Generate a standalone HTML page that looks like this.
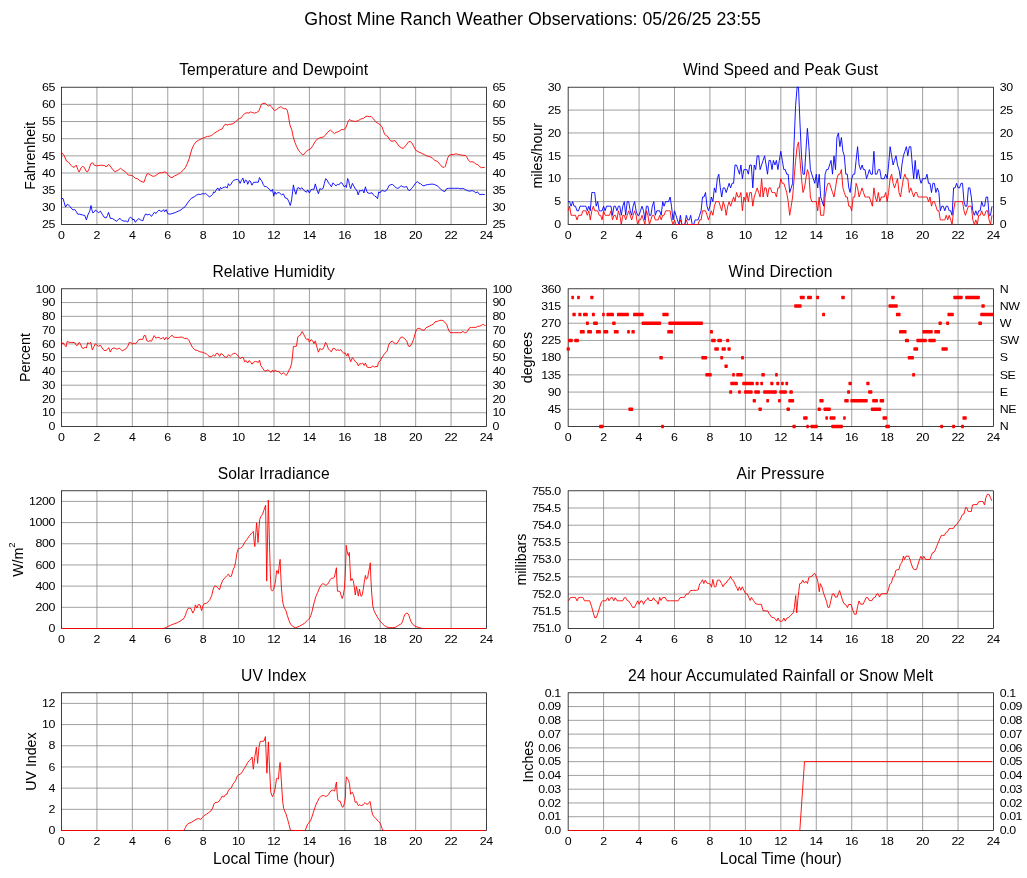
<!DOCTYPE html>
<html><head><meta charset="utf-8"><title>Ghost Mine Ranch Weather Observations</title>
<style>html,body{margin:0;padding:0;background:#fff;}body{width:1027px;height:878px;overflow:hidden;}svg{display:block;will-change:transform;transform:translateZ(0);}text{font-family:"Liberation Sans",sans-serif;fill:#000;}</style>
</head><body>
<svg width="1027" height="878" viewBox="0 0 1027 878">
<rect width="1027" height="878" fill="#fff"/>
<text x="532.6" y="25" text-anchor="middle" font-size="17.75">Ghost Mine Ranch Weather Observations: 05/26/25 23:55</text>
<path d="M96.92 87.2V224.5M132.33 87.2V224.5M167.75 87.2V224.5M203.17 87.2V224.5M238.58 87.2V224.5M274 87.2V224.5M309.42 87.2V224.5M344.83 87.2V224.5M380.25 87.2V224.5M415.67 87.2V224.5M451.08 87.2V224.5" stroke="#808080" stroke-width="0.75" fill="none"/>
<path d="M61.5 207.34H486.5M61.5 190.18H486.5M61.5 173.01H486.5M61.5 155.85H486.5M61.5 138.69H486.5M61.5 121.52H486.5M61.5 104.36H486.5" stroke="#808080" stroke-width="0.75" fill="none"/>
<rect x="61.5" y="87.2" width="425" height="137.3" fill="none" stroke="#000000" stroke-width="0.75"/>
<path d="M61.5 152.3 64.2 155.8 66.5 161.1 68.6 162.3 71.1 165.4 73 167.3 74.8 166.7 76.3 165.1 77.7 169.2 79.2 172 81.1 167.9 82.5 166.3 84.2 167.3 86 171.1 87.5 171.9 89.2 168.6 90.7 163.8 92.5 162.7 94.2 165.1 96.6 165.8 100.4 165.3 104.1 165.3 106 166.7 107.2 166.1 108.7 164.3 110.3 166.1 112.8 169.8 115.1 171.7 117.8 170.4 120.6 168.3 122.8 170.1 125.9 172.3 128.4 175.2 130.9 175.2 132.8 176 135.3 178.3 137.8 178.8 139.6 180.6 142.1 181.8 144 182.2 145.2 178.7 145.6 177.3 147.1 173.8 148.7 173.8 150.6 175.1 153.1 176.4 155.6 175.7 158 173.8 159.9 172.7 161.8 172.9 164.3 171.9 166.2 172.3 168 174.8 169.9 176.9 172 177.7 174.2 176.1 177.4 174.6 180.5 172.7 183 170.4 185.5 167.3 187.3 163.6 189.2 158.6 190.7 153 192.3 148 194.2 144.3 196.1 141.8 198.6 140.2 201.7 138.7 204.8 137.4 207.3 136.4 209.8 136.2 212.3 134.9 214.8 132.8 217.2 131.4 219.7 129.9 222.2 128.9 223.7 126.2 225.3 124.1 227.2 125 229.7 124.3 232.2 124 235.3 122.2 237.2 120 239.1 118.7 240.9 118.1 242.8 115.6 244.7 113.5 247.2 112.7 249 113.1 250.5 111.9 252.8 112.7 254.6 113.1 256.5 112.5 258.7 111.2 260 108.1 261.2 104.7 262.7 103.5 265 103.2 266.8 104.7 268.3 106 269.9 105.2 271.4 106.6 273.1 109 274.6 110.6 276.4 109.7 278.7 107.8 280.9 106.6 282.7 108.1 284.3 108.7 286.1 108.7 287.4 110.6 288.6 116.8 289.9 124.9 291.8 129.9 293.2 136.7 294.9 142.3 296.7 146.7 298.6 150.4 300.5 152.7 302.4 154.8 303.9 154.6 305.5 152.3 307.3 150.4 309.2 149.6 311.1 148.3 312.9 145.5 314.8 142.1 316.7 139.6 318.6 138.4 321.1 137.4 323.5 137.1 325.4 135.1 327.3 132.8 329.1 130.9 330.4 130.1 332.3 131.8 334.4 133.6 336 132.4 337.9 131.8 339.7 130.9 341.6 129.5 343.7 129.6 345.4 128.6 346.9 124.9 348.2 121.2 349.5 119.5 351 120.5 353.4 121.2 355.9 121.4 358.4 120.5 360.9 119 363.4 118.4 365.9 116.4 367.8 116.2 369.7 116.8 371.1 116.4 373.4 118.9 374.6 120.3 375.6 121.8 378.1 123.4 380 124.7 381.8 126.4 383.1 129.9 384.6 134.3 386.2 135.5 388.1 136.8 389.3 139.3 390.9 141.1 393.1 141.1 394.9 140.5 396.8 143 399.3 146.4 401.2 147.7 403 148.4 404.9 146.7 406.8 144.2 408.6 141.8 410.1 141.4 411.8 142.8 413.6 146.1 415.5 149.9 418 151.7 421.1 153 424.2 154.6 427.3 156.1 429.8 156.7 432.3 158 434.8 160.4 437.3 161.3 439.8 164.2 442.3 167.1 444.2 167.3 445.4 166.1 446.6 161.7 447.9 157.6 449.1 155.5 451 154.5 453.5 154.5 456 153.8 458.5 154.5 462.2 155.2 465.4 155.5 466.6 156.7 468.5 160.4 470.3 161.9 472.2 161.7 474.1 162.3 475.9 164.2 477.8 164.6 479.7 166.7 481.6 167.7 484.7 167.4" stroke="#ff0000" stroke-width="0.9" fill="none" stroke-linejoin="miter" stroke-miterlimit="10"/>
<path d="M61.5 198.7 63 198.4 64.2 202.4 65.5 207.1 67.3 204.3 69.2 205.5 71.1 208 73 209.9 74.8 209.6 76.5 211.8 77.7 214.2 79.8 214.2 82.3 214.9 84.8 215.5 86.4 219.9 87.9 214.9 89.8 211.1 91 205.5 91.9 209.9 92.9 213 94.4 211.8 95.4 210.1 96.9 211.1 98.5 212.8 100.4 211.1 102.2 214.2 104.1 217.1 106 218 107.5 215.5 108.5 212.4 109.3 214.9 110.3 218.4 112.2 218.4 114.1 219.6 116.6 221.3 118.5 219.2 120.1 218.4 121.8 220.5 124.1 221.1 126.3 221.1 127.8 222.1 129.1 218.6 130.3 217.1 131.8 218 132.8 219.9 134 219.2 135.3 222.3 137.2 219.9 138.8 218.6 140.5 219.9 142.8 220.8 144.2 216.7 145.6 213.9 147.5 214.9 149.6 214.2 151.5 216.4 153 214.2 154.6 212.1 155.8 213.6 157.3 211.8 159 210.1 160.5 211.1 162.1 211.4 163.6 209.6 164.6 211.8 166.2 209.6 167.7 213.6 169.6 214.2 172.1 213.6 175.2 212.6 178.3 211.1 180 210.5 182.5 208.6 185 206.8 187.5 203 190 199.7 191.8 198 194.3 196.8 196.8 194.9 198.7 194.3 200.6 194.5 202.2 193.7 204.3 193.9 205.6 193.4 207.2 194.9 209.3 196.8 211.2 195.9 212.7 194.3 213.7 191.8 214.7 192.7 215.8 190.6 217 188.7 218 188.1 219.3 190.6 220.5 187.4 221.8 188.9 223 187.4 224.6 187.2 225.9 186.8 227.1 188.1 228.4 183.7 229.6 185.6 230.8 184.7 232.3 181.8 233.8 180.2 235.5 179.7 237.3 179.3 238.6 180 240.1 183.4 241.3 180.6 242.9 178.1 244.2 183.1 245.4 180 246.7 180.6 247.7 184.3 249.2 180.6 250.4 181.2 251.9 185.2 253.5 182.4 256 182.2 258.3 182.2 259.5 177.5 260.8 180 262 181.2 263.3 184.7 264.8 186.8 266.2 186.4 267.9 188.1 269.5 189.3 271 191.4 272.5 189.3 273.7 196.2 275 191.8 276.2 194.3 277.8 192.4 279.7 193 281.6 194.9 283.4 193.9 285.3 198 287.2 198.4 288.7 201.2 290.3 205.5 291.6 199.9 292.6 191.8 293.4 184.9 294.4 189.9 295.9 194.3 297.4 188.1 299 187.7 300 189.3 301.9 187.7 303.5 189.9 305 191.2 306.5 192.2 307.7 189.9 309.4 193 311 189.7 312.5 189.3 314 189.3 315.3 183.9 316.8 189.3 318.4 193.7 319.9 188.7 321.4 189.3 323.1 188.4 324.3 183.7 325.6 178.7 327.2 180.2 328.7 183.4 329.9 184.3 331.4 186.8 333 182.8 334.3 184.3 336.1 185.9 337.4 184.3 338.9 184.9 340.5 182.8 341.8 182.7 343 184.9 344.2 186.8 345.5 185.6 346.4 187.4 347.6 178.5 348.6 180.6 349.6 185.6 350.7 188.7 352.4 183.4 353.9 186.2 355.5 189.3 356.7 189.9 358.2 194.9 359.6 190.6 361.1 190.9 362.7 189.9 363.9 193 365.4 186.8 366.7 191.2 367.9 193 369.8 193.4 372 192.7 373.5 194.9 375 196.4 376.3 196.8 377.5 198.7 378.8 191.8 379.8 193 381.3 190.9 382.9 190.6 384.8 191.4 386.6 190.3 387.9 188.1 388.9 185.6 390.4 184.9 392.2 184.3 394.1 185.9 396 187.7 397.5 188.4 399.1 187.8 401 185.6 402.8 186.8 404.7 187.2 406.6 186.4 408.2 189.9 409.7 190.6 411.6 188.4 413.4 186.4 415.3 183.4 417.2 181.6 419 183.1 420.6 183.7 422.1 185.2 424 185.9 425.9 184.9 427.8 184.7 429.8 184.3 432.3 184.1 434.8 184.6 437.3 185.9 439.8 188.1 442.3 190.6 444.8 191.6 446.6 188.7 448.5 188.3 451.6 188.3 454.8 188.3 458.5 188.3 461 188.9 462.9 188.3 464.7 189.3 467.2 190.6 469.7 191.2 472.2 190.6 474.1 191.4 475.9 193 477.4 191.8 479.7 194.7 482.2 194.3 484.7 194.5" stroke="#0000ff" stroke-width="0.9" fill="none" stroke-linejoin="miter" stroke-miterlimit="10"/>
<text x="273.7" y="75" text-anchor="middle" font-size="15.65" textLength="188.91" lengthAdjust="spacing">Temperature and Dewpoint</text>
<text transform="translate(61.28 239) scale(1.07 1)" text-anchor="middle" font-size="11.6" letter-spacing="-0.42">0</text>
<text transform="translate(96.69 239) scale(1.07 1)" text-anchor="middle" font-size="11.6" letter-spacing="-0.42">2</text>
<text transform="translate(132.11 239) scale(1.07 1)" text-anchor="middle" font-size="11.6" letter-spacing="-0.42">4</text>
<text transform="translate(167.53 239) scale(1.07 1)" text-anchor="middle" font-size="11.6" letter-spacing="-0.42">6</text>
<text transform="translate(202.94 239) scale(1.07 1)" text-anchor="middle" font-size="11.6" letter-spacing="-0.42">8</text>
<text transform="translate(238.36 239) scale(1.07 1)" text-anchor="middle" font-size="11.6" letter-spacing="-0.42">10</text>
<text transform="translate(273.78 239) scale(1.07 1)" text-anchor="middle" font-size="11.6" letter-spacing="-0.42">12</text>
<text transform="translate(309.19 239) scale(1.07 1)" text-anchor="middle" font-size="11.6" letter-spacing="-0.42">14</text>
<text transform="translate(344.61 239) scale(1.07 1)" text-anchor="middle" font-size="11.6" letter-spacing="-0.42">16</text>
<text transform="translate(380.03 239) scale(1.07 1)" text-anchor="middle" font-size="11.6" letter-spacing="-0.42">18</text>
<text transform="translate(415.44 239) scale(1.07 1)" text-anchor="middle" font-size="11.6" letter-spacing="-0.42">20</text>
<text transform="translate(450.86 239) scale(1.07 1)" text-anchor="middle" font-size="11.6" letter-spacing="-0.42">22</text>
<text transform="translate(486.28 239) scale(1.07 1)" text-anchor="middle" font-size="11.6" letter-spacing="-0.42">24</text>
<text transform="translate(54.85 228) scale(1.07 1)" text-anchor="end" font-size="11.6" letter-spacing="-0.42">25</text>
<text transform="translate(54.85 211) scale(1.07 1)" text-anchor="end" font-size="11.6" letter-spacing="-0.42">30</text>
<text transform="translate(54.85 194) scale(1.07 1)" text-anchor="end" font-size="11.6" letter-spacing="-0.42">35</text>
<text transform="translate(54.85 177) scale(1.07 1)" text-anchor="end" font-size="11.6" letter-spacing="-0.42">40</text>
<text transform="translate(54.85 160) scale(1.07 1)" text-anchor="end" font-size="11.6" letter-spacing="-0.42">45</text>
<text transform="translate(54.85 142) scale(1.07 1)" text-anchor="end" font-size="11.6" letter-spacing="-0.42">50</text>
<text transform="translate(54.85 125) scale(1.07 1)" text-anchor="end" font-size="11.6" letter-spacing="-0.42">55</text>
<text transform="translate(54.85 108) scale(1.07 1)" text-anchor="end" font-size="11.6" letter-spacing="-0.42">60</text>
<text transform="translate(54.85 91) scale(1.07 1)" text-anchor="end" font-size="11.6" letter-spacing="-0.42">65</text>
<text transform="translate(492.4 228) scale(1.07 1)" text-anchor="start" font-size="11.6" letter-spacing="-0.42">25</text>
<text transform="translate(492.4 211) scale(1.07 1)" text-anchor="start" font-size="11.6" letter-spacing="-0.42">30</text>
<text transform="translate(492.4 194) scale(1.07 1)" text-anchor="start" font-size="11.6" letter-spacing="-0.42">35</text>
<text transform="translate(492.4 177) scale(1.07 1)" text-anchor="start" font-size="11.6" letter-spacing="-0.42">40</text>
<text transform="translate(492.4 160) scale(1.07 1)" text-anchor="start" font-size="11.6" letter-spacing="-0.42">45</text>
<text transform="translate(492.4 142) scale(1.07 1)" text-anchor="start" font-size="11.6" letter-spacing="-0.42">50</text>
<text transform="translate(492.4 125) scale(1.07 1)" text-anchor="start" font-size="11.6" letter-spacing="-0.42">55</text>
<text transform="translate(492.4 108) scale(1.07 1)" text-anchor="start" font-size="11.6" letter-spacing="-0.42">60</text>
<text transform="translate(492.4 91) scale(1.07 1)" text-anchor="start" font-size="11.6" letter-spacing="-0.42">65</text>
<text transform="translate(35.2 155.8) rotate(-90)" text-anchor="middle" font-size="14.2">Fahrenheit</text>
<path d="M603.6 87.2V224.5M639.04 87.2V224.5M674.49 87.2V224.5M709.93 87.2V224.5M745.38 87.2V224.5M780.83 87.2V224.5M816.27 87.2V224.5M851.72 87.2V224.5M887.16 87.2V224.5M922.61 87.2V224.5M958.05 87.2V224.5" stroke="#808080" stroke-width="0.75" fill="none"/>
<path d="M568.15 201.62H993.5M568.15 178.73H993.5M568.15 155.85H993.5M568.15 132.97H993.5M568.15 110.08H993.5" stroke="#808080" stroke-width="0.75" fill="none"/>
<rect x="568.15" y="87.2" width="425.35" height="137.3" fill="none" stroke="#000000" stroke-width="0.75"/>
<path d="M568.1 201.6 569.6 201.6 571.1 206.2 572.6 201.6 574.1 206.2 575.5 206.2 577 210.8 578.5 210.8 580 206.2 581.4 206.2 582.9 206.2 584.4 206.2 585.9 206.2 587.3 210.8 588.8 206.2 590.3 210.8 591.8 192.5 593.3 192.5 594.7 192.5 596.2 206.2 597.7 201.6 599.2 210.8 600.6 210.8 602.1 210.8 603.6 206.2 605.1 210.8 606.5 206.2 608 206.2 609.5 206.2 611 206.2 612.5 215.3 613.9 206.2 615.4 206.2 616.9 210.8 618.4 206.2 619.8 206.2 621.3 215.3 622.8 206.2 624.3 201.6 625.7 215.3 627.2 201.6 628.7 201.6 630.2 210.8 631.7 215.3 633.1 206.2 634.6 201.6 636.1 210.8 637.6 215.3 639 215.3 640.5 210.8 642 206.2 643.5 210.8 644.9 219.9 646.4 206.2 647.9 206.2 649.4 215.3 650.9 215.3 652.3 206.2 653.8 201.6 655.3 215.3 656.8 210.8 658.2 210.8 659.7 210.8 661.2 215.3 662.7 201.6 664.1 206.2 665.6 201.6 667.1 201.6 668.6 201.6 670.1 197 671.5 206.2 673 219.9 674.5 210.8 676 215.3 677.4 219.9 678.9 224.5 680.4 215.3 681.9 224.5 683.3 224.5 684.8 224.5 686.3 215.3 687.8 219.9 689.3 219.9 690.7 215.3 692.2 224.5 693.7 224.5 695.2 219.9 696.6 219.9 698.1 219.9 699.6 215.3 701.1 210.8 702.5 197 704 197 705.5 192.5 707 206.2 708.5 210.8 709.9 206.2 711.4 197 712.9 201.6 714.4 187.9 715.8 192.5 717.3 178.7 718.8 174.2 720.3 187.9 721.7 197 723.2 187.9 724.7 187.9 726.2 192.5 727.7 187.9 729.1 183.3 730.6 187.9 732.1 183.3 733.6 183.3 735 165 736.5 165 738 169.6 739.5 174.2 740.9 165 742.4 178.7 743.9 169.6 745.4 169.6 746.9 169.6 748.3 174.2 749.8 165 751.3 165 752.8 187.9 754.2 165 755.7 169.6 757.2 155.8 758.7 155.8 760.1 169.6 761.6 165 763.1 160.4 764.6 155.8 766.1 165 767.5 174.2 769 160.4 770.5 160.4 772 169.6 773.4 160.4 774.9 165 776.4 160.4 777.9 169.6 779.3 160.4 780.8 151.3 782.3 160.4 783.8 169.6 785.3 169.6 786.7 174.2 788.2 174.2 789.7 192.5 791.2 187.9 792.6 183.3 794.1 142.1 795.6 105.5 797.1 87.2 798.5 87.2 800 123.8 801.5 155.8 803 174.2 804.5 174.2 805.9 151.3 807.4 128.4 808.9 146.7 810.4 169.6 811.8 174.2 813.3 178.7 814.8 183.3 816.3 174.2 817.7 187.9 819.2 174.2 820.7 197 822.2 201.6 823.7 206.2 825.1 174.2 826.6 169.6 828.1 169.6 829.6 165 831 160.4 832.5 174.2 834 155.8 835.5 169.6 836.9 137.5 838.4 133 839.9 146.7 841.4 137.5 842.9 151.3 844.3 155.8 845.8 174.2 847.3 174.2 848.8 187.9 850.2 192.5 851.7 178.7 853.2 174.2 854.7 174.2 856.1 160.4 857.6 146.7 859.1 165 860.6 169.6 862.1 165 863.5 169.6 865 169.6 866.5 178.7 868 174.2 869.4 169.6 870.9 174.2 872.4 174.2 873.9 151.3 875.3 174.2 876.8 174.2 878.3 169.6 879.8 169.6 881.3 178.7 882.7 178.7 884.2 178.7 885.7 174.2 887.2 178.7 888.6 165 890.1 146.7 891.6 155.8 893.1 165 894.5 160.4 896 155.8 897.5 165 899 169.6 900.5 178.7 901.9 165 903.4 155.8 904.9 151.3 906.4 146.7 907.8 155.8 909.3 146.7 910.8 146.7 912.3 165 913.7 178.7 915.2 160.4 916.7 178.7 918.2 169.6 919.7 178.7 921.1 183.3 922.6 178.7 924.1 178.7 925.6 178.7 927 174.2 928.5 183.3 930 183.3 931.5 192.5 932.9 183.3 934.4 183.3 935.9 192.5 937.4 187.9 938.9 192.5 940.3 210.8 941.8 206.2 943.3 206.2 944.8 210.8 946.2 206.2 947.7 206.2 949.2 210.8 950.7 210.8 952.1 215.3 953.6 187.9 955.1 187.9 956.6 183.3 958.1 187.9 959.5 187.9 961 183.3 962.5 183.3 964 201.6 965.4 206.2 966.9 206.2 968.4 187.9 969.9 187.9 971.3 197 972.8 210.8 974.3 215.3 975.8 210.8 977.3 215.3 978.7 210.8 980.2 210.8 981.7 201.6 983.2 206.2 984.6 206.2 986.1 197 987.6 197 989.1 215.3 990.5 215.3 992 206.2" stroke="#0000ff" stroke-width="0.9" fill="none" stroke-linejoin="miter" stroke-miterlimit="10"/>
<path d="M568.1 210.8 569.6 206.2 571.1 215.3 572.6 215.3 574.1 215.3 575.5 215.3 577 219.9 578.5 215.3 580 215.3 581.4 215.3 582.9 210.8 584.4 210.8 585.9 210.8 587.3 215.3 588.8 210.8 590.3 219.9 591.8 210.8 593.3 206.2 594.7 210.8 596.2 210.8 597.7 210.8 599.2 215.3 600.6 215.3 602.1 219.9 603.6 210.8 605.1 215.3 606.5 215.3 608 215.3 609.5 215.3 611 210.8 612.5 219.9 613.9 215.3 615.4 215.3 616.9 219.9 618.4 210.8 619.8 215.3 621.3 224.5 622.8 215.3 624.3 215.3 625.7 219.9 627.2 215.3 628.7 210.8 630.2 215.3 631.7 219.9 633.1 215.3 634.6 210.8 636.1 215.3 637.6 224.5 639 219.9 640.5 219.9 642 215.3 643.5 219.9 644.9 224.5 646.4 210.8 647.9 215.3 649.4 224.5 650.9 219.9 652.3 215.3 653.8 215.3 655.3 219.9 656.8 219.9 658.2 219.9 659.7 215.3 661.2 219.9 662.7 215.3 664.1 215.3 665.6 210.8 667.1 210.8 668.6 210.8 670.1 210.8 671.5 219.9 673 224.5 674.5 219.9 676 224.5 677.4 224.5 678.9 224.5 680.4 219.9 681.9 224.5 683.3 224.5 684.8 224.5 686.3 219.9 687.8 224.5 689.3 224.5 690.7 224.5 692.2 224.5 693.7 224.5 695.2 224.5 696.6 224.5 698.1 224.5 699.6 219.9 701.1 219.9 702.5 210.8 704 210.8 705.5 210.8 707 215.3 708.5 219.9 709.9 215.3 711.4 210.8 712.9 215.3 714.4 206.2 715.8 201.6 717.3 201.6 718.8 201.6 720.3 206.2 721.7 210.8 723.2 201.6 724.7 206.2 726.2 215.3 727.7 206.2 729.1 201.6 730.6 206.2 732.1 201.6 733.6 197 735 201.6 736.5 192.5 738 197 739.5 197 740.9 192.5 742.4 210.8 743.9 197 745.4 201.6 746.9 192.5 748.3 201.6 749.8 192.5 751.3 192.5 752.8 206.2 754.2 197 755.7 192.5 757.2 187.9 758.7 192.5 760.1 197 761.6 178.7 763.1 197 764.6 187.9 766.1 187.9 767.5 197 769 187.9 770.5 187.9 772 192.5 773.4 192.5 774.9 192.5 776.4 197 777.9 187.9 779.3 187.9 780.8 178.7 782.3 183.3 783.8 183.3 785.3 187.9 786.7 192.5 788.2 201.6 789.7 215.3 791.2 206.2 792.6 197 794.1 178.7 795.6 160.4 797.1 146.7 798.5 142.1 800 160.4 801.5 178.7 803 192.5 804.5 187.9 805.9 178.7 807.4 169.6 808.9 174.2 810.4 197 811.8 201.6 813.3 201.6 814.8 201.6 816.3 201.6 817.7 210.8 819.2 197 820.7 215.3 822.2 215.3 823.7 215.3 825.1 197 826.6 187.9 828.1 183.3 829.6 183.3 831 187.9 832.5 192.5 834 197 835.5 187.9 836.9 178.7 838.4 174.2 839.9 174.2 841.4 169.6 842.9 187.9 844.3 192.5 845.8 197 847.3 197 848.8 206.2 850.2 206.2 851.7 210.8 853.2 197 854.7 197 856.1 183.3 857.6 187.9 859.1 197 860.6 192.5 862.1 187.9 863.5 192.5 865 197 866.5 197 868 197 869.4 197 870.9 201.6 872.4 206.2 873.9 187.9 875.3 197 876.8 201.6 878.3 192.5 879.8 201.6 881.3 197 882.7 197 884.2 197 885.7 192.5 887.2 201.6 888.6 192.5 890.1 178.7 891.6 174.2 893.1 183.3 894.5 187.9 896 183.3 897.5 178.7 899 192.5 900.5 197 901.9 187.9 903.4 178.7 904.9 174.2 906.4 178.7 907.8 178.7 909.3 192.5 910.8 187.9 912.3 192.5 913.7 197 915.2 192.5 916.7 192.5 918.2 197 919.7 197 921.1 197 922.6 197 924.1 197 925.6 197 927 197 928.5 201.6 930 197 931.5 206.2 932.9 201.6 934.4 201.6 935.9 206.2 937.4 210.8 938.9 210.8 940.3 219.9 941.8 219.9 943.3 219.9 944.8 219.9 946.2 215.3 947.7 219.9 949.2 215.3 950.7 219.9 952.1 224.5 953.6 210.8 955.1 201.6 956.6 201.6 958.1 201.6 959.5 201.6 961 201.6 962.5 201.6 964 210.8 965.4 215.3 966.9 210.8 968.4 206.2 969.9 206.2 971.3 206.2 972.8 219.9 974.3 224.5 975.8 219.9 977.3 224.5 978.7 215.3 980.2 215.3 981.7 210.8 983.2 215.3 984.6 215.3 986.1 210.8 987.6 210.8 989.1 219.9 990.5 224.5 992 215.3" stroke="#ff0000" stroke-width="0.9" fill="none" stroke-linejoin="miter" stroke-miterlimit="10"/>
<text x="780.53" y="75" text-anchor="middle" font-size="15.65" textLength="195.04" lengthAdjust="spacing">Wind Speed and Peak Gust</text>
<text transform="translate(567.93 239) scale(1.07 1)" text-anchor="middle" font-size="11.6" letter-spacing="-0.42">0</text>
<text transform="translate(603.37 239) scale(1.07 1)" text-anchor="middle" font-size="11.6" letter-spacing="-0.42">2</text>
<text transform="translate(638.82 239) scale(1.07 1)" text-anchor="middle" font-size="11.6" letter-spacing="-0.42">4</text>
<text transform="translate(674.26 239) scale(1.07 1)" text-anchor="middle" font-size="11.6" letter-spacing="-0.42">6</text>
<text transform="translate(709.71 239) scale(1.07 1)" text-anchor="middle" font-size="11.6" letter-spacing="-0.42">8</text>
<text transform="translate(745.15 239) scale(1.07 1)" text-anchor="middle" font-size="11.6" letter-spacing="-0.42">10</text>
<text transform="translate(780.6 239) scale(1.07 1)" text-anchor="middle" font-size="11.6" letter-spacing="-0.42">12</text>
<text transform="translate(816.05 239) scale(1.07 1)" text-anchor="middle" font-size="11.6" letter-spacing="-0.42">14</text>
<text transform="translate(851.49 239) scale(1.07 1)" text-anchor="middle" font-size="11.6" letter-spacing="-0.42">16</text>
<text transform="translate(886.94 239) scale(1.07 1)" text-anchor="middle" font-size="11.6" letter-spacing="-0.42">18</text>
<text transform="translate(922.38 239) scale(1.07 1)" text-anchor="middle" font-size="11.6" letter-spacing="-0.42">20</text>
<text transform="translate(957.83 239) scale(1.07 1)" text-anchor="middle" font-size="11.6" letter-spacing="-0.42">22</text>
<text transform="translate(993.28 239) scale(1.07 1)" text-anchor="middle" font-size="11.6" letter-spacing="-0.42">24</text>
<text transform="translate(560.7 228) scale(1.07 1)" text-anchor="end" font-size="11.6" letter-spacing="-0.42">0</text>
<text transform="translate(560.7 205) scale(1.07 1)" text-anchor="end" font-size="11.6" letter-spacing="-0.42">5</text>
<text transform="translate(560.7 182) scale(1.07 1)" text-anchor="end" font-size="11.6" letter-spacing="-0.42">10</text>
<text transform="translate(560.7 160) scale(1.07 1)" text-anchor="end" font-size="11.6" letter-spacing="-0.42">15</text>
<text transform="translate(560.7 137) scale(1.07 1)" text-anchor="end" font-size="11.6" letter-spacing="-0.42">20</text>
<text transform="translate(560.7 114) scale(1.07 1)" text-anchor="end" font-size="11.6" letter-spacing="-0.42">25</text>
<text transform="translate(560.7 91) scale(1.07 1)" text-anchor="end" font-size="11.6" letter-spacing="-0.42">30</text>
<text transform="translate(999.7 228) scale(1.07 1)" text-anchor="start" font-size="11.6" letter-spacing="-0.42">0</text>
<text transform="translate(999.7 205) scale(1.07 1)" text-anchor="start" font-size="11.6" letter-spacing="-0.42">5</text>
<text transform="translate(999.7 182) scale(1.07 1)" text-anchor="start" font-size="11.6" letter-spacing="-0.42">10</text>
<text transform="translate(999.7 160) scale(1.07 1)" text-anchor="start" font-size="11.6" letter-spacing="-0.42">15</text>
<text transform="translate(999.7 137) scale(1.07 1)" text-anchor="start" font-size="11.6" letter-spacing="-0.42">20</text>
<text transform="translate(999.7 114) scale(1.07 1)" text-anchor="start" font-size="11.6" letter-spacing="-0.42">25</text>
<text transform="translate(999.7 91) scale(1.07 1)" text-anchor="start" font-size="11.6" letter-spacing="-0.42">30</text>
<text transform="translate(541.8 155.8) rotate(-90)" text-anchor="middle" font-size="14.2">miles/hour</text>
<path d="M96.92 288.8V426.5M132.33 288.8V426.5M167.75 288.8V426.5M203.17 288.8V426.5M238.58 288.8V426.5M274 288.8V426.5M309.42 288.8V426.5M344.83 288.8V426.5M380.25 288.8V426.5M415.67 288.8V426.5M451.08 288.8V426.5" stroke="#808080" stroke-width="0.75" fill="none"/>
<path d="M61.5 412.73H486.5M61.5 398.96H486.5M61.5 385.19H486.5M61.5 371.42H486.5M61.5 357.65H486.5M61.5 343.88H486.5M61.5 330.11H486.5M61.5 316.34H486.5M61.5 302.57H486.5" stroke="#808080" stroke-width="0.75" fill="none"/>
<rect x="61.5" y="288.8" width="425" height="137.7" fill="none" stroke="#000000" stroke-width="0.75"/>
<path d="M61.5 344.9 63 342.7 64.5 344.9 66.1 346.8 67.3 341.2 69 342.4 71.1 342.4 73 342.4 74.8 342.7 76.5 345.5 77.9 344.9 79.2 342.4 80.4 343.9 81.9 347.7 83.5 348.4 85.2 347.2 86.4 348 87.7 342.7 89.2 343.7 90.7 342.2 92.3 349.9 93.9 346.8 95.4 343.7 96.9 345.3 98.5 346.2 100.4 345.3 102.2 348 104.1 350.5 106 350.5 107.5 349.3 108.7 347.7 110.3 352.1 111.8 348.9 113.5 348 115.3 348.4 117.2 349.3 119.1 348 120.6 349.3 122.2 350.8 124.1 349.9 125.9 348.9 127.8 346.2 129.3 342.4 130.9 342.7 132.5 343.9 134 343 135.5 343.9 137.2 341.8 138.8 339.7 140.9 339.3 142.8 339.3 144 335.6 145.5 335.6 146.7 340.6 148.4 341.4 150 340.6 151.5 341.2 153 338.1 154.2 335.6 155.8 338.1 157.5 337.4 159 337.4 160.5 338.7 162.1 338.4 163.3 337.2 164.6 339.9 166.2 337.2 167.7 339.3 169.6 337.4 170.8 336.2 172.1 335.2 173.7 337.2 175.8 337.4 178.3 337.4 180 337.2 182.5 337.2 184.4 338.4 186.9 338.4 188.7 339.9 190.6 343.7 192.5 347.4 195 349.9 197.4 350.5 199.9 351.8 202.2 352.2 204.3 353 206.2 353.6 208 355.5 209.9 356.8 211.8 356.4 213.4 355.1 214.9 356.1 216.4 353.4 218 353.4 219.6 356.4 221.1 353.4 223 354.9 224.9 357.1 226.7 357.4 228.6 354.6 230.1 356.4 231.7 354.9 233.3 353.4 235.5 353.4 237.3 354.9 239.2 357.4 240.4 358.9 241.7 357.4 243.3 357.4 244.6 361.8 246.1 360.5 247.6 363 249.2 360.5 250.8 362.4 252 364.2 253.5 362.1 255.4 361.4 257 361.8 258.5 362.4 259.5 360.1 260.8 365.5 262.5 368 264.5 370.9 266 370.9 267.9 369.9 269.5 371.1 271.2 372.4 272.5 370.1 273.7 372.1 275.4 369.9 277 371.7 278.5 371.1 280 373 281.6 374.2 283.4 372.6 284.9 374.2 286.2 375.5 287.8 373 289.1 369.9 290.3 368 291.6 363.6 292.6 354.9 293.4 346.4 294.9 346.4 296.5 346.2 297.8 336.8 299.4 335.6 300 335.6 302.2 331.5 303.7 334.3 305.6 338.1 306.9 339.7 308.1 338.7 309.4 342.2 311 339.7 312.5 340.6 314 343.7 315.3 340.9 316.8 346.8 318.4 352.2 319.9 348.4 321.4 349.7 323.1 348.9 324.3 346.2 325.6 342.4 326.8 344.3 328.4 348.9 329.9 350.5 331.4 351.8 333 348.4 334.6 348.4 336.1 350.5 337.6 349.7 339.3 350.5 340.8 349.7 342.4 351.8 343.9 353.6 345.1 352.7 346.7 356.1 348 353.4 349.2 357.4 350.7 361.8 352.4 357.6 353.9 359.6 355.5 361.8 357.1 363 358.3 365.9 359.8 363.6 361.3 363.9 362.6 363 364.2 365.5 365.4 363 367.1 367.1 369.2 367.6 371.1 367.4 372.9 365.9 374.5 367.1 376 366.4 377.5 366.7 378.5 362.3 380 361.1 381.8 358 383.7 354.9 385.2 353 387.1 351.1 388.7 344.9 390.2 342.4 392.2 341.1 393.7 342.4 395.6 343.9 397.4 343 399.3 339.6 400.9 337.2 402.7 337.2 404.6 338.6 406.8 341.1 408.4 346.1 410.1 346.4 411.8 343.6 413.6 339.3 415.1 333.7 416.4 329.7 418 328.4 419.9 328.4 421.7 329.9 424.2 330.2 426.1 327.7 428 326.8 429.8 325.9 431.7 324.9 433.6 323.9 435.1 321.8 437.3 321.4 439.2 320.6 441.1 320.2 442.9 320.6 444.8 322.2 446.6 324.3 447.9 328.1 449.4 331.8 451 332.7 453.5 332.7 456 332.7 458.5 332.7 461 332.7 462.9 331.4 464.5 332.7 466.2 332.7 467.8 330.6 469.7 327.7 471.6 327.4 473.4 327.4 475.9 327.4 477.4 326.4 479.7 326.2 481.6 325.2 483.2 324.3 484.7 325.6 485.7 325.3" stroke="#ff0000" stroke-width="0.9" fill="none" stroke-linejoin="miter" stroke-miterlimit="10"/>
<text x="273.7" y="277" text-anchor="middle" font-size="15.65" textLength="122.46" lengthAdjust="spacing">Relative Humidity</text>
<text transform="translate(61.28 441) scale(1.07 1)" text-anchor="middle" font-size="11.6" letter-spacing="-0.42">0</text>
<text transform="translate(96.69 441) scale(1.07 1)" text-anchor="middle" font-size="11.6" letter-spacing="-0.42">2</text>
<text transform="translate(132.11 441) scale(1.07 1)" text-anchor="middle" font-size="11.6" letter-spacing="-0.42">4</text>
<text transform="translate(167.53 441) scale(1.07 1)" text-anchor="middle" font-size="11.6" letter-spacing="-0.42">6</text>
<text transform="translate(202.94 441) scale(1.07 1)" text-anchor="middle" font-size="11.6" letter-spacing="-0.42">8</text>
<text transform="translate(238.36 441) scale(1.07 1)" text-anchor="middle" font-size="11.6" letter-spacing="-0.42">10</text>
<text transform="translate(273.78 441) scale(1.07 1)" text-anchor="middle" font-size="11.6" letter-spacing="-0.42">12</text>
<text transform="translate(309.19 441) scale(1.07 1)" text-anchor="middle" font-size="11.6" letter-spacing="-0.42">14</text>
<text transform="translate(344.61 441) scale(1.07 1)" text-anchor="middle" font-size="11.6" letter-spacing="-0.42">16</text>
<text transform="translate(380.03 441) scale(1.07 1)" text-anchor="middle" font-size="11.6" letter-spacing="-0.42">18</text>
<text transform="translate(415.44 441) scale(1.07 1)" text-anchor="middle" font-size="11.6" letter-spacing="-0.42">20</text>
<text transform="translate(450.86 441) scale(1.07 1)" text-anchor="middle" font-size="11.6" letter-spacing="-0.42">22</text>
<text transform="translate(486.28 441) scale(1.07 1)" text-anchor="middle" font-size="11.6" letter-spacing="-0.42">24</text>
<text transform="translate(54.85 430) scale(1.07 1)" text-anchor="end" font-size="11.6" letter-spacing="-0.42">0</text>
<text transform="translate(54.85 416) scale(1.07 1)" text-anchor="end" font-size="11.6" letter-spacing="-0.42">10</text>
<text transform="translate(54.85 403) scale(1.07 1)" text-anchor="end" font-size="11.6" letter-spacing="-0.42">20</text>
<text transform="translate(54.85 389) scale(1.07 1)" text-anchor="end" font-size="11.6" letter-spacing="-0.42">30</text>
<text transform="translate(54.85 375) scale(1.07 1)" text-anchor="end" font-size="11.6" letter-spacing="-0.42">40</text>
<text transform="translate(54.85 361) scale(1.07 1)" text-anchor="end" font-size="11.6" letter-spacing="-0.42">50</text>
<text transform="translate(54.85 348) scale(1.07 1)" text-anchor="end" font-size="11.6" letter-spacing="-0.42">60</text>
<text transform="translate(54.85 334) scale(1.07 1)" text-anchor="end" font-size="11.6" letter-spacing="-0.42">70</text>
<text transform="translate(54.85 320) scale(1.07 1)" text-anchor="end" font-size="11.6" letter-spacing="-0.42">80</text>
<text transform="translate(54.85 306) scale(1.07 1)" text-anchor="end" font-size="11.6" letter-spacing="-0.42">90</text>
<text transform="translate(54.85 293) scale(1.07 1)" text-anchor="end" font-size="11.6" letter-spacing="-0.42">100</text>
<text transform="translate(492.4 430) scale(1.07 1)" text-anchor="start" font-size="11.6" letter-spacing="-0.42">0</text>
<text transform="translate(492.4 416) scale(1.07 1)" text-anchor="start" font-size="11.6" letter-spacing="-0.42">10</text>
<text transform="translate(492.4 403) scale(1.07 1)" text-anchor="start" font-size="11.6" letter-spacing="-0.42">20</text>
<text transform="translate(492.4 389) scale(1.07 1)" text-anchor="start" font-size="11.6" letter-spacing="-0.42">30</text>
<text transform="translate(492.4 375) scale(1.07 1)" text-anchor="start" font-size="11.6" letter-spacing="-0.42">40</text>
<text transform="translate(492.4 361) scale(1.07 1)" text-anchor="start" font-size="11.6" letter-spacing="-0.42">50</text>
<text transform="translate(492.4 348) scale(1.07 1)" text-anchor="start" font-size="11.6" letter-spacing="-0.42">60</text>
<text transform="translate(492.4 334) scale(1.07 1)" text-anchor="start" font-size="11.6" letter-spacing="-0.42">70</text>
<text transform="translate(492.4 320) scale(1.07 1)" text-anchor="start" font-size="11.6" letter-spacing="-0.42">80</text>
<text transform="translate(492.4 306) scale(1.07 1)" text-anchor="start" font-size="11.6" letter-spacing="-0.42">90</text>
<text transform="translate(492.4 293) scale(1.07 1)" text-anchor="start" font-size="11.6" letter-spacing="-0.42">100</text>
<text transform="translate(29.5 357.6) rotate(-90)" text-anchor="middle" font-size="14.2">Percent</text>
<path d="M603.6 288.8V426.5M639.04 288.8V426.5M674.49 288.8V426.5M709.93 288.8V426.5M745.38 288.8V426.5M780.83 288.8V426.5M816.27 288.8V426.5M851.72 288.8V426.5M887.16 288.8V426.5M922.61 288.8V426.5M958.05 288.8V426.5" stroke="#808080" stroke-width="0.75" fill="none"/>
<path d="M568.15 409.29H993.5M568.15 392.07H993.5M568.15 374.86H993.5M568.15 357.65H993.5M568.15 340.44H993.5M568.15 323.23H993.5M568.15 306.01H993.5" stroke="#808080" stroke-width="0.75" fill="none"/>
<rect x="568.15" y="288.8" width="425.35" height="137.7" fill="none" stroke="#000000" stroke-width="0.75"/>
<g fill="#ff0000"><rect x="599.05" y="424.75" width="4.6" height="3.5" rx="0.7"/><rect x="661.05" y="424.75" width="2.9" height="3.5" rx="0.7"/><rect x="792.45" y="424.75" width="3.3" height="3.5" rx="0.7"/><rect x="806.25" y="424.75" width="2.6" height="3.5" rx="0.7"/><rect x="810.5" y="424.75" width="7.25" height="3.5" rx="0.7"/><rect x="831.25" y="424.75" width="11.6" height="3.5" rx="0.7"/><rect x="885.35" y="424.75" width="4.6" height="3.5" rx="0.7"/><rect x="940.25" y="424.75" width="2.8" height="3.5" rx="0.7"/><rect x="952.15" y="424.75" width="2.9" height="3.5" rx="0.7"/><rect x="961.05" y="424.75" width="2.9" height="3.5" rx="0.7"/><rect x="803.15" y="416.14" width="4.5" height="3.5" rx="0.7"/><rect x="825.35" y="416.14" width="2.6" height="3.5" rx="0.7"/><rect x="829.55" y="416.14" width="5.95" height="3.5" rx="0.7"/><rect x="843.15" y="416.14" width="2.6" height="3.5" rx="0.7"/><rect x="882.5" y="416.14" width="4.55" height="3.5" rx="0.7"/><rect x="962.45" y="416.14" width="4.3" height="3.5" rx="0.7"/><rect x="628.45" y="407.54" width="4.7" height="3.5" rx="0.7"/><rect x="758.45" y="407.54" width="3.45" height="3.5" rx="0.7"/><rect x="786.55" y="407.54" width="3.4" height="3.5" rx="0.7"/><rect x="817.65" y="407.54" width="3.2" height="3.5" rx="0.7"/><rect x="823.55" y="407.54" width="7.2" height="3.5" rx="0.7"/><rect x="870.95" y="407.54" width="10.2" height="3.5" rx="0.7"/><rect x="752.65" y="398.93" width="3.3" height="3.5" rx="0.7"/><rect x="766.25" y="398.93" width="2.8" height="3.5" rx="0.7"/><rect x="778.05" y="398.93" width="2.8" height="3.5" rx="0.7"/><rect x="788.25" y="398.93" width="5.9" height="3.5" rx="0.7"/><rect x="819.35" y="398.93" width="4.3" height="3.5" rx="0.7"/><rect x="844.25" y="398.93" width="4.5" height="3.5" rx="0.7"/><rect x="850.35" y="398.93" width="17.4" height="3.5" rx="0.7"/><rect x="872.15" y="398.93" width="5.8" height="3.5" rx="0.7"/><rect x="879.55" y="398.93" width="4.6" height="3.5" rx="0.7"/><rect x="729.15" y="390.32" width="3.1" height="3.5" rx="0.7"/><rect x="738.05" y="390.32" width="2.8" height="3.5" rx="0.7"/><rect x="744.05" y="390.32" width="8.6" height="3.5" rx="0.7"/><rect x="754.25" y="390.32" width="5.7" height="3.5" rx="0.7"/><rect x="763.15" y="390.32" width="13.7" height="3.5" rx="0.7"/><rect x="779.25" y="390.32" width="7.65" height="3.5" rx="0.7"/><rect x="789.35" y="390.32" width="3.5" height="3.5" rx="0.7"/><rect x="847.1" y="390.32" width="3.05" height="3.5" rx="0.7"/><rect x="868.05" y="390.32" width="4.35" height="3.5" rx="0.7"/><rect x="730.25" y="381.72" width="7.7" height="3.5" rx="0.7"/><rect x="742.25" y="381.72" width="11.65" height="3.5" rx="0.7"/><rect x="755.55" y="381.72" width="3.1" height="3.5" rx="0.7"/><rect x="760.25" y="381.72" width="2.8" height="3.5" rx="0.7"/><rect x="770.25" y="381.72" width="3.2" height="3.5" rx="0.7"/><rect x="776.25" y="381.72" width="3.1" height="3.5" rx="0.7"/><rect x="781.05" y="381.72" width="2.7" height="3.5" rx="0.7"/><rect x="785.35" y="381.72" width="2.8" height="3.5" rx="0.7"/><rect x="848.45" y="381.72" width="3.4" height="3.5" rx="0.7"/><rect x="866.25" y="381.72" width="3.3" height="3.5" rx="0.7"/><rect x="705.35" y="373.11" width="6.4" height="3.5" rx="0.7"/><rect x="732.15" y="373.11" width="2.7" height="3.5" rx="0.7"/><rect x="736.25" y="373.11" width="6.4" height="3.5" rx="0.7"/><rect x="761.35" y="373.11" width="3.5" height="3.5" rx="0.7"/><rect x="775.1" y="373.11" width="2.75" height="3.5" rx="0.7"/><rect x="912.15" y="373.11" width="2.9" height="3.5" rx="0.7"/><rect x="724.45" y="364.51" width="3.3" height="3.5" rx="0.7"/><rect x="659.35" y="355.9" width="3.5" height="3.5" rx="0.7"/><rect x="701.35" y="355.9" width="5.7" height="3.5" rx="0.7"/><rect x="720.25" y="355.9" width="2.8" height="3.5" rx="0.7"/><rect x="741.05" y="355.9" width="2.9" height="3.5" rx="0.7"/><rect x="907.75" y="355.9" width="6.2" height="3.5" rx="0.7"/><rect x="566.65" y="347.29" width="3.2" height="3.5" rx="0.7"/><rect x="714.25" y="347.29" width="4.6" height="3.5" rx="0.7"/><rect x="721.55" y="347.29" width="4.3" height="3.5" rx="0.7"/><rect x="727.45" y="347.29" width="3.3" height="3.5" rx="0.7"/><rect x="913.35" y="347.29" width="4.8" height="3.5" rx="0.7"/><rect x="941.45" y="347.29" width="6.3" height="3.5" rx="0.7"/><rect x="568.05" y="338.69" width="4.7" height="3.5" rx="0.7"/><rect x="574.25" y="338.69" width="4.6" height="3.5" rx="0.7"/><rect x="711.15" y="338.69" width="4.6" height="3.5" rx="0.7"/><rect x="717.35" y="338.69" width="4.6" height="3.5" rx="0.7"/><rect x="726.15" y="338.69" width="3" height="3.5" rx="0.7"/><rect x="904.95" y="338.69" width="4.05" height="3.5" rx="0.7"/><rect x="916.35" y="338.69" width="10.45" height="3.5" rx="0.7"/><rect x="928.3" y="338.69" width="7.45" height="3.5" rx="0.7"/><rect x="579.75" y="330.08" width="5" height="3.5" rx="0.7"/><rect x="587.15" y="330.08" width="4.8" height="3.5" rx="0.7"/><rect x="595.95" y="330.08" width="4.9" height="3.5" rx="0.7"/><rect x="603.35" y="330.08" width="4.9" height="3.5" rx="0.7"/><rect x="613.85" y="330.08" width="4.8" height="3.5" rx="0.7"/><rect x="627.15" y="330.08" width="2.7" height="3.5" rx="0.7"/><rect x="631.45" y="330.08" width="3.35" height="3.5" rx="0.7"/><rect x="667.25" y="330.08" width="5.7" height="3.5" rx="0.7"/><rect x="709.9" y="330.08" width="3.05" height="3.5" rx="0.7"/><rect x="899.05" y="330.08" width="7.5" height="3.5" rx="0.7"/><rect x="922.35" y="330.08" width="10.4" height="3.5" rx="0.7"/><rect x="934.25" y="330.08" width="5.85" height="3.5" rx="0.7"/><rect x="585.95" y="321.48" width="2.9" height="3.5" rx="0.7"/><rect x="593.15" y="321.48" width="4.7" height="3.5" rx="0.7"/><rect x="612.15" y="321.48" width="3.5" height="3.5" rx="0.7"/><rect x="641.65" y="321.48" width="19.4" height="3.5" rx="0.7"/><rect x="668.35" y="321.48" width="34.5" height="3.5" rx="0.7"/><rect x="938.55" y="321.48" width="3.2" height="3.5" rx="0.7"/><rect x="946.15" y="321.48" width="3" height="3.5" rx="0.7"/><rect x="978.35" y="321.48" width="3.6" height="3.5" rx="0.7"/><rect x="572.4" y="312.87" width="3.35" height="3.5" rx="0.7"/><rect x="578.35" y="312.87" width="3.1" height="3.5" rx="0.7"/><rect x="583.05" y="312.87" width="4.7" height="3.5" rx="0.7"/><rect x="591.95" y="312.87" width="2.9" height="3.5" rx="0.7"/><rect x="602.15" y="312.87" width="2.6" height="3.5" rx="0.7"/><rect x="606.45" y="312.87" width="7.5" height="3.5" rx="0.7"/><rect x="616.95" y="312.87" width="11.9" height="3.5" rx="0.7"/><rect x="633.05" y="312.87" width="10.6" height="3.5" rx="0.7"/><rect x="662.35" y="312.87" width="6.3" height="3.5" rx="0.7"/><rect x="822.15" y="312.87" width="2.9" height="3.5" rx="0.7"/><rect x="895.95" y="312.87" width="4.6" height="3.5" rx="0.7"/><rect x="947.45" y="312.87" width="6.35" height="3.5" rx="0.7"/><rect x="980.25" y="312.87" width="13.2" height="3.5" rx="0.7"/><rect x="794.15" y="304.26" width="7.5" height="3.5" rx="0.7"/><rect x="888.45" y="304.26" width="9.3" height="3.5" rx="0.7"/><rect x="981.35" y="304.26" width="3.45" height="3.5" rx="0.7"/><rect x="571.35" y="295.66" width="2.6" height="3.5" rx="0.7"/><rect x="577.15" y="295.66" width="2.7" height="3.5" rx="0.7"/><rect x="590.25" y="295.66" width="3.2" height="3.5" rx="0.7"/><rect x="799.85" y="295.66" width="4.9" height="3.5" rx="0.7"/><rect x="807.05" y="295.66" width="4.9" height="3.5" rx="0.7"/><rect x="816.15" y="295.66" width="2.9" height="3.5" rx="0.7"/><rect x="841.25" y="295.66" width="3.5" height="3.5" rx="0.7"/><rect x="891.25" y="295.66" width="3.4" height="3.5" rx="0.7"/><rect x="953.35" y="295.66" width="9.3" height="3.5" rx="0.7"/><rect x="965.2" y="295.66" width="14.65" height="3.5" rx="0.7"/></g>
<text x="780.53" y="277" text-anchor="middle" font-size="15.65" textLength="104.06" lengthAdjust="spacing">Wind Direction</text>
<text transform="translate(567.93 441) scale(1.07 1)" text-anchor="middle" font-size="11.6" letter-spacing="-0.42">0</text>
<text transform="translate(603.37 441) scale(1.07 1)" text-anchor="middle" font-size="11.6" letter-spacing="-0.42">2</text>
<text transform="translate(638.82 441) scale(1.07 1)" text-anchor="middle" font-size="11.6" letter-spacing="-0.42">4</text>
<text transform="translate(674.26 441) scale(1.07 1)" text-anchor="middle" font-size="11.6" letter-spacing="-0.42">6</text>
<text transform="translate(709.71 441) scale(1.07 1)" text-anchor="middle" font-size="11.6" letter-spacing="-0.42">8</text>
<text transform="translate(745.15 441) scale(1.07 1)" text-anchor="middle" font-size="11.6" letter-spacing="-0.42">10</text>
<text transform="translate(780.6 441) scale(1.07 1)" text-anchor="middle" font-size="11.6" letter-spacing="-0.42">12</text>
<text transform="translate(816.05 441) scale(1.07 1)" text-anchor="middle" font-size="11.6" letter-spacing="-0.42">14</text>
<text transform="translate(851.49 441) scale(1.07 1)" text-anchor="middle" font-size="11.6" letter-spacing="-0.42">16</text>
<text transform="translate(886.94 441) scale(1.07 1)" text-anchor="middle" font-size="11.6" letter-spacing="-0.42">18</text>
<text transform="translate(922.38 441) scale(1.07 1)" text-anchor="middle" font-size="11.6" letter-spacing="-0.42">20</text>
<text transform="translate(957.83 441) scale(1.07 1)" text-anchor="middle" font-size="11.6" letter-spacing="-0.42">22</text>
<text transform="translate(993.28 441) scale(1.07 1)" text-anchor="middle" font-size="11.6" letter-spacing="-0.42">24</text>
<text transform="translate(560.7 430) scale(1.07 1)" text-anchor="end" font-size="11.6" letter-spacing="-0.42">0</text>
<text transform="translate(560.7 413) scale(1.07 1)" text-anchor="end" font-size="11.6" letter-spacing="-0.42">45</text>
<text transform="translate(560.7 396) scale(1.07 1)" text-anchor="end" font-size="11.6" letter-spacing="-0.42">90</text>
<text transform="translate(560.7 379) scale(1.07 1)" text-anchor="end" font-size="11.6" letter-spacing="-0.42">135</text>
<text transform="translate(560.7 361) scale(1.07 1)" text-anchor="end" font-size="11.6" letter-spacing="-0.42">180</text>
<text transform="translate(560.7 344) scale(1.07 1)" text-anchor="end" font-size="11.6" letter-spacing="-0.42">225</text>
<text transform="translate(560.7 327) scale(1.07 1)" text-anchor="end" font-size="11.6" letter-spacing="-0.42">270</text>
<text transform="translate(560.7 310) scale(1.07 1)" text-anchor="end" font-size="11.6" letter-spacing="-0.42">315</text>
<text transform="translate(560.7 293) scale(1.07 1)" text-anchor="end" font-size="11.6" letter-spacing="-0.42">360</text>
<text transform="translate(999.7 430) scale(1.07 1)" text-anchor="start" font-size="11.6" letter-spacing="-0.42">N</text>
<text transform="translate(999.7 413) scale(1.07 1)" text-anchor="start" font-size="11.6" letter-spacing="-0.42">NE</text>
<text transform="translate(999.7 396) scale(1.07 1)" text-anchor="start" font-size="11.6" letter-spacing="-0.42">E</text>
<text transform="translate(999.7 379) scale(1.07 1)" text-anchor="start" font-size="11.6" letter-spacing="-0.42">SE</text>
<text transform="translate(999.7 361) scale(1.07 1)" text-anchor="start" font-size="11.6" letter-spacing="-0.42">S</text>
<text transform="translate(999.7 344) scale(1.07 1)" text-anchor="start" font-size="11.6" letter-spacing="-0.42">SW</text>
<text transform="translate(999.7 327) scale(1.07 1)" text-anchor="start" font-size="11.6" letter-spacing="-0.42">W</text>
<text transform="translate(999.7 310) scale(1.07 1)" text-anchor="start" font-size="11.6" letter-spacing="-0.42">NW</text>
<text transform="translate(999.7 293) scale(1.07 1)" text-anchor="start" font-size="11.6" letter-spacing="-0.42">N</text>
<text transform="translate(532.4 357.6) rotate(-90)" text-anchor="middle" font-size="14.2">degrees</text>
<path d="M96.92 490.8V628.5M132.33 490.8V628.5M167.75 490.8V628.5M203.17 490.8V628.5M238.58 490.8V628.5M274 490.8V628.5M309.42 490.8V628.5M344.83 490.8V628.5M380.25 490.8V628.5M415.67 490.8V628.5M451.08 490.8V628.5" stroke="#808080" stroke-width="0.75" fill="none"/>
<path d="M61.5 607.32H486.5M61.5 586.13H486.5M61.5 564.95H486.5M61.5 543.76H486.5M61.5 522.58H486.5M61.5 501.39H486.5" stroke="#808080" stroke-width="0.75" fill="none"/>
<rect x="61.5" y="490.8" width="425" height="137.7" fill="none" stroke="#000000" stroke-width="0.75"/>
<path d="M61.5 628.5 162 628.5 164.7 628.2 167.6 626.6 170.5 625.3 173.4 624.1 177.4 622.7 180.9 620.6 183.8 618.5 185.3 615.4 186.7 611.3 188.1 608.4 189.6 608.1 191.1 608.8 192.8 613.1 194.3 610.2 195.4 604.9 196.9 608.1 198.3 604.6 200.1 604.9 201.6 610.7 203 605.5 204.1 603.8 206.2 603.4 208.2 601.8 209.9 599.5 211.7 595.6 213.2 589.2 214.4 586.3 215.8 586 217.5 587.5 219.5 589.8 221 584.6 222.7 580.5 225.1 577.6 226.8 575.7 228.5 574.1 229.7 576.5 231.4 576.2 233 570.1 234.6 566.6 235.7 561.4 236.9 553.2 238.1 549.2 239 548.4 240.7 548 242.5 546.5 244.8 542.2 247.1 539.3 249.4 535.8 251.8 532.9 253.5 531.4 253.9 539.2 254.8 546.6 255.6 535.9 256.6 522.8 257.4 532.6 258 542.5 258.9 529.4 259.7 519.5 260.9 516.6 262.6 514.2 263.8 510.5 264.9 507.2 265.6 505.2 266.7 581.1 268.3 500.2 270.3 573.3 271 589.3 272.3 591.1 273.6 589.3 274.9 584.6 275.7 579.4 276.6 570.7 277.5 571.1 278.3 573.7 279.2 565.5 280.1 559.3 280.7 573.3 281.5 588.9 282.4 599.3 283.3 604.9 284.4 607.9 285.9 610.5 287.4 615.7 289 620.5 290.5 624 292.2 625.9 293.9 627.1 295.6 627.7 297.4 627.1 299.6 626.1 302.1 624.8 304.7 623.1 307.3 620.5 309.5 618.3 310.8 615.7 311.8 612.3 313 607.1 314.3 601.9 315.8 596.7 317.7 592.4 319.5 588 321 585.3 322.5 583.7 324.2 584.1 325.9 585.4 327.7 584.1 329 582 330.3 579.4 331.6 578.3 333.3 578.1 334.2 577.5 335.3 573.2 336.4 567.7 336.9 581.9 337.5 591.2 339.1 591.2 340.2 591.8 341.1 595.6 342.2 598.5 343.3 595 344.4 588.5 345.1 577.5 345.7 563.3 346.2 545.3 347 550.8 347.9 554 348.6 555.7 349.3 552.4 350.1 568.8 350.8 580.8 352 578.6 353.3 580.8 354.2 586.3 355.3 595 356.4 586.5 357.5 591.8 358.4 596.1 359.4 589 360.4 594 361.2 596.4 362.3 594.5 363.2 589.6 364.3 581.9 365.4 575.4 366.4 579.2 367.6 578.1 368.6 572.1 369.5 567.7 370.3 562.8 370.8 577.5 371.7 592.9 372.8 606 374.1 610.9 375.8 614.2 377.9 618 380.1 621.3 382.3 623.5 384.5 625.7 386.7 627 389.4 627.6 392.7 627.6 395.4 627.3 397.5 626 398.7 625.2 400.6 624.3 401.8 623 402.8 620.6 403.7 617.5 404.6 615 405.6 613.6 406.8 613.1 408.1 613.8 409 615.6 409.9 618.7 410.9 621.2 411.8 623 413 624.6 414.9 626 417.4 627.1 419.9 627.9 422.4 628.5 485 628.5" stroke="#ff0000" stroke-width="0.9" fill="none" stroke-linejoin="miter" stroke-miterlimit="10"/>
<text x="273.7" y="479" text-anchor="middle" font-size="15.65" textLength="112.08" lengthAdjust="spacing">Solar Irradiance</text>
<text transform="translate(61.28 643) scale(1.07 1)" text-anchor="middle" font-size="11.6" letter-spacing="-0.42">0</text>
<text transform="translate(96.69 643) scale(1.07 1)" text-anchor="middle" font-size="11.6" letter-spacing="-0.42">2</text>
<text transform="translate(132.11 643) scale(1.07 1)" text-anchor="middle" font-size="11.6" letter-spacing="-0.42">4</text>
<text transform="translate(167.53 643) scale(1.07 1)" text-anchor="middle" font-size="11.6" letter-spacing="-0.42">6</text>
<text transform="translate(202.94 643) scale(1.07 1)" text-anchor="middle" font-size="11.6" letter-spacing="-0.42">8</text>
<text transform="translate(238.36 643) scale(1.07 1)" text-anchor="middle" font-size="11.6" letter-spacing="-0.42">10</text>
<text transform="translate(273.78 643) scale(1.07 1)" text-anchor="middle" font-size="11.6" letter-spacing="-0.42">12</text>
<text transform="translate(309.19 643) scale(1.07 1)" text-anchor="middle" font-size="11.6" letter-spacing="-0.42">14</text>
<text transform="translate(344.61 643) scale(1.07 1)" text-anchor="middle" font-size="11.6" letter-spacing="-0.42">16</text>
<text transform="translate(380.03 643) scale(1.07 1)" text-anchor="middle" font-size="11.6" letter-spacing="-0.42">18</text>
<text transform="translate(415.44 643) scale(1.07 1)" text-anchor="middle" font-size="11.6" letter-spacing="-0.42">20</text>
<text transform="translate(450.86 643) scale(1.07 1)" text-anchor="middle" font-size="11.6" letter-spacing="-0.42">22</text>
<text transform="translate(486.28 643) scale(1.07 1)" text-anchor="middle" font-size="11.6" letter-spacing="-0.42">24</text>
<text transform="translate(54.85 632) scale(1.07 1)" text-anchor="end" font-size="11.6" letter-spacing="-0.42">0</text>
<text transform="translate(54.85 611) scale(1.07 1)" text-anchor="end" font-size="11.6" letter-spacing="-0.42">200</text>
<text transform="translate(54.85 590) scale(1.07 1)" text-anchor="end" font-size="11.6" letter-spacing="-0.42">400</text>
<text transform="translate(54.85 569) scale(1.07 1)" text-anchor="end" font-size="11.6" letter-spacing="-0.42">600</text>
<text transform="translate(54.85 547) scale(1.07 1)" text-anchor="end" font-size="11.6" letter-spacing="-0.42">800</text>
<text transform="translate(54.85 526) scale(1.07 1)" text-anchor="end" font-size="11.6" letter-spacing="-0.42">1000</text>
<text transform="translate(54.85 505) scale(1.07 1)" text-anchor="end" font-size="11.6" letter-spacing="-0.42">1200</text>
<text transform="translate(22.7 559.6) rotate(-90)" text-anchor="middle" font-size="14.2">W/m<tspan font-size="9.5" dy="-7.5">2</tspan></text>
<path d="M603.6 490.8V628.5M639.04 490.8V628.5M674.49 490.8V628.5M709.93 490.8V628.5M745.38 490.8V628.5M780.83 490.8V628.5M816.27 490.8V628.5M851.72 490.8V628.5M887.16 490.8V628.5M922.61 490.8V628.5M958.05 490.8V628.5" stroke="#808080" stroke-width="0.75" fill="none"/>
<path d="M568.15 611.29H993.5M568.15 594.08H993.5M568.15 576.86H993.5M568.15 559.65H993.5M568.15 542.44H993.5M568.15 525.23H993.5M568.15 508.01H993.5" stroke="#808080" stroke-width="0.75" fill="none"/>
<rect x="568.15" y="490.8" width="425.35" height="137.7" fill="none" stroke="#000000" stroke-width="0.75"/>
<path d="M568.5 600.9 570.4 597.7 572.2 597.4 575.4 597.4 577 600.9 578.5 597.7 580.3 597.4 582.8 597.4 584.5 600.8 587.2 600.8 589.7 600.8 591.5 606.2 593.2 612.4 594.7 617.6 596.3 617.6 598.2 612.4 599.6 607.4 601.5 601.8 602.8 600.8 605.9 600.8 607.8 597.7 609 600.8 610.9 597.7 612.4 597.7 613.7 600.8 615.2 597.7 617.1 600.8 619.6 600.8 622.7 600.8 624.3 597.7 625.8 597.7 627.3 600.5 628.9 601.2 630.8 604.3 632.7 607.4 634.5 607.4 636 604.3 637.7 600.8 639.2 604.3 640.8 600.8 642.3 601.2 643.5 604.3 645.1 600.9 646.8 599.9 648 597.7 649.3 600.5 652 600.5 653.5 597.7 655.1 600.5 656.7 601.2 658.2 604.3 659.7 597.4 661 600.5 662.6 597.7 665.1 597.4 667 600.8 670.7 600.8 674.4 600.8 678.2 600.8 680 597.7 682.5 597.4 684.4 597.4 686 594.3 688.5 593.7 690.4 590.6 693.5 590.3 696.6 590.3 698.2 589.9 699.7 583.7 701.2 582.5 702.5 579.7 703.8 583.5 705.3 580 706.9 583.1 708.7 583.5 710.3 584 711.5 587.2 712.8 579.4 714.4 586.8 715.9 586.8 717.4 580.2 719.6 580 721.5 583.5 723.1 586.8 724.6 583.7 726.1 583.1 727.8 580.2 729.2 579.4 730.5 576.5 731.9 579.4 733.4 580.6 735.2 584.7 736.7 587.5 738 590.6 739.4 586.8 740.8 590.2 742.3 586.8 744 590.6 745.6 593.7 747.3 593.9 748.9 597.7 750.2 600.5 751.4 597.4 753.3 600.3 755.8 603.9 758.3 604.3 761.4 604.3 763 610.5 765.1 610.9 767.6 610.9 769.5 614.2 771.8 617.4 773.9 617.6 775.5 619.2 776.7 621.1 778 618 779.5 621.1 781.4 621.4 782.6 620.9 783.8 618 785.3 621.1 787 618 788.8 617.4 790.5 615.5 792 614.2 793.4 612.4 794.4 607.4 795.7 595.5 796.7 613 797.9 598.7 798.8 591.2 799.7 583.7 801.3 583.1 802.8 580.2 804.4 583.1 805.9 581.2 807.5 583.5 808.8 577.5 810.6 576.5 812.1 576.2 813.8 573.7 814.7 573.4 816.2 576.2 817.8 581.2 819.3 591.8 820.3 583.6 822 587.1 823.5 593 825.3 598 826.6 601.7 827.8 607.3 829.4 607.3 830.9 600.5 832.4 593.9 834 593.9 835.3 597.1 837.2 597.1 838.4 593.6 839.6 590.5 840.9 594.9 842.4 599.9 844 603.6 845.9 604.8 847.4 607.6 848.6 604.5 851.1 604.5 852.7 609.8 854.4 614.2 856.2 614.2 857.7 606.1 859 600.9 860.6 604.2 863.1 604.2 864.6 601.1 866.1 597.6 867.7 597.6 869.3 600.5 871.8 600.7 873.3 598 875.2 597.1 877 593.6 878.3 594.2 879.5 597.1 881 593.9 883.9 593.6 887 593.6 888.3 589.9 889.8 584.3 891.4 583 892.9 577.4 894.5 576.2 895.7 570.6 897.2 569.7 898.9 569.6 900.4 564.3 902 562.2 903.5 556 904.5 559.4 906 556.2 908.8 556.2 910.1 560 911.7 565 913.2 568.7 914.7 569.7 916.6 569.3 917.8 565 919.4 560 920.9 556.2 922.3 559.4 923.8 556.2 925.5 559.3 927.1 559.5 929.9 559.5 931.2 555.9 932.4 552.9 934 552.2 935.3 550 936.7 546.3 938.2 542.7 939.9 538.6 941.2 535.6 942.6 535.4 944.4 535.4 945.8 532.6 947.6 531.7 949.2 528.5 951.3 528.4 953.5 528.4 954.9 525.8 956.7 524.5 958.1 522.2 959.5 520.8 960.8 518.1 962.2 514.9 964 514 964.9 510.3 965.6 507.6 966.8 507.6 967.9 511.2 969.5 511.5 971.3 511.5 972.5 504.9 974 504.6 977.2 504.6 978.6 501.7 980.9 501.5 982.9 501.5 984.5 504.9 985.9 497.6 987.4 494.4 989.1 494.4 990.4 497.6 991.8 500.8" stroke="#ff0000" stroke-width="0.9" fill="none" stroke-linejoin="miter" stroke-miterlimit="10"/>
<text x="780.53" y="479" text-anchor="middle" font-size="15.65" textLength="88" lengthAdjust="spacing">Air Pressure</text>
<text transform="translate(567.93 643) scale(1.07 1)" text-anchor="middle" font-size="11.6" letter-spacing="-0.42">0</text>
<text transform="translate(603.37 643) scale(1.07 1)" text-anchor="middle" font-size="11.6" letter-spacing="-0.42">2</text>
<text transform="translate(638.82 643) scale(1.07 1)" text-anchor="middle" font-size="11.6" letter-spacing="-0.42">4</text>
<text transform="translate(674.26 643) scale(1.07 1)" text-anchor="middle" font-size="11.6" letter-spacing="-0.42">6</text>
<text transform="translate(709.71 643) scale(1.07 1)" text-anchor="middle" font-size="11.6" letter-spacing="-0.42">8</text>
<text transform="translate(745.15 643) scale(1.07 1)" text-anchor="middle" font-size="11.6" letter-spacing="-0.42">10</text>
<text transform="translate(780.6 643) scale(1.07 1)" text-anchor="middle" font-size="11.6" letter-spacing="-0.42">12</text>
<text transform="translate(816.05 643) scale(1.07 1)" text-anchor="middle" font-size="11.6" letter-spacing="-0.42">14</text>
<text transform="translate(851.49 643) scale(1.07 1)" text-anchor="middle" font-size="11.6" letter-spacing="-0.42">16</text>
<text transform="translate(886.94 643) scale(1.07 1)" text-anchor="middle" font-size="11.6" letter-spacing="-0.42">18</text>
<text transform="translate(922.38 643) scale(1.07 1)" text-anchor="middle" font-size="11.6" letter-spacing="-0.42">20</text>
<text transform="translate(957.83 643) scale(1.07 1)" text-anchor="middle" font-size="11.6" letter-spacing="-0.42">22</text>
<text transform="translate(993.28 643) scale(1.07 1)" text-anchor="middle" font-size="11.6" letter-spacing="-0.42">24</text>
<text transform="translate(560.7 632) scale(1.07 1)" text-anchor="end" font-size="11.6" letter-spacing="-0.42">751.0</text>
<text transform="translate(560.7 615) scale(1.07 1)" text-anchor="end" font-size="11.6" letter-spacing="-0.42">751.5</text>
<text transform="translate(560.7 598) scale(1.07 1)" text-anchor="end" font-size="11.6" letter-spacing="-0.42">752.0</text>
<text transform="translate(560.7 581) scale(1.07 1)" text-anchor="end" font-size="11.6" letter-spacing="-0.42">752.5</text>
<text transform="translate(560.7 563) scale(1.07 1)" text-anchor="end" font-size="11.6" letter-spacing="-0.42">753.0</text>
<text transform="translate(560.7 546) scale(1.07 1)" text-anchor="end" font-size="11.6" letter-spacing="-0.42">753.5</text>
<text transform="translate(560.7 529) scale(1.07 1)" text-anchor="end" font-size="11.6" letter-spacing="-0.42">754.0</text>
<text transform="translate(560.7 512) scale(1.07 1)" text-anchor="end" font-size="11.6" letter-spacing="-0.42">754.5</text>
<text transform="translate(560.7 495) scale(1.07 1)" text-anchor="end" font-size="11.6" letter-spacing="-0.42">755.0</text>
<text transform="translate(526 559.6) rotate(-90)" text-anchor="middle" font-size="14.2">millibars</text>
<path d="M96.92 692.8V830.5M132.33 692.8V830.5M167.75 692.8V830.5M203.17 692.8V830.5M238.58 692.8V830.5M274 692.8V830.5M309.42 692.8V830.5M344.83 692.8V830.5M380.25 692.8V830.5M415.67 692.8V830.5M451.08 692.8V830.5" stroke="#808080" stroke-width="0.75" fill="none"/>
<path d="M61.5 809.32H486.5M61.5 788.13H486.5M61.5 766.95H486.5M61.5 745.76H486.5M61.5 724.58H486.5M61.5 703.39H486.5" stroke="#808080" stroke-width="0.75" fill="none"/>
<rect x="61.5" y="692.8" width="425" height="137.7" fill="none" stroke="#000000" stroke-width="0.75"/>
<path d="M61.5 830.5 183.8 830.5 185 828.4 186.7 824.9 189 823.2 191.4 822.4 193.7 820.9 196 819.4 198.3 818.5 200.7 819.4 202.4 817.4 204.1 815.6 206.5 814.2 208.8 812.5 211.1 810.8 212.6 808.1 214 804 215.2 802.5 217.5 802.3 219.2 801.1 221 798.2 222.1 796.1 223.9 797.1 225.4 794.7 227 794.1 228.5 790.1 230 788.9 231.4 787.8 232.8 784.3 234.3 782.5 235.8 780.2 237.2 776.1 238.6 774.8 240.7 774 242.5 771.5 244.2 768.6 246 765.7 247.7 762.4 249.4 760.5 251 758.7 252.1 757 253.3 769.2 254.7 757.6 256.4 747.1 257.6 763.4 259 747.1 260.2 741.5 261.9 741.3 264 741.1 265.4 736.6 266.9 773.2 268.4 741.9 269.5 766.9 270.7 791.2 271.3 794 272.5 796.7 273.9 793.5 275.3 787.8 276.5 778.7 277.5 778.2 278.4 779.2 279.4 767.2 280.1 762.4 280.8 772 281.8 788.3 282.7 801.7 283.7 808.4 284.7 811.2 286.1 814.1 287.5 818.9 289 824.6 290.4 829.9 291.8 830.5 304.3 830.5 305.2 830.2 306.2 828 307.6 824.1 309.1 822.7 310.5 820.8 311.9 817 313.4 812.2 314.8 807.9 316.2 804.1 317.7 801.2 319.1 798.3 320.5 796.7 322 795.7 323.4 795.5 324.8 795.9 325.8 796.7 327.2 795.7 328.7 794.5 329.9 792.1 331.1 790.7 332.5 790.2 333.7 790.4 334.7 791.1 335.6 785.4 336.5 782 337 792.1 337.8 799.8 338.9 801.2 340.1 801.2 341.4 805 342.4 807.2 343.5 806.5 344.6 802.4 345.4 797 345.7 785.4 346.4 776.8 347.3 778.4 348.5 780.3 349.5 783.8 350.6 794.3 351.6 792.7 352.3 792.2 353.5 794.7 354.4 798.5 355.2 802.4 356.6 801.6 357.5 804 358.3 805.6 359.3 804.7 360.5 805.3 361.6 805.6 362.8 805.1 363.9 803.6 365.1 802.6 366 803.6 367 804.3 368.2 803.8 369.1 802.4 370.1 801.5 370.9 806.3 371.7 810.9 372.7 814.8 374 816.7 375.6 818.3 377.1 820.1 378.7 821.6 380 822.9 381 825.2 382 828.4 383.1 830.3 384.5 830.5 485 830.5" stroke="#ff0000" stroke-width="0.9" fill="none" stroke-linejoin="miter" stroke-miterlimit="10"/>
<text x="273.7" y="681" text-anchor="middle" font-size="15.65" textLength="65.17" lengthAdjust="spacing">UV Index</text>
<text transform="translate(61.28 845) scale(1.07 1)" text-anchor="middle" font-size="11.6" letter-spacing="-0.42">0</text>
<text transform="translate(96.69 845) scale(1.07 1)" text-anchor="middle" font-size="11.6" letter-spacing="-0.42">2</text>
<text transform="translate(132.11 845) scale(1.07 1)" text-anchor="middle" font-size="11.6" letter-spacing="-0.42">4</text>
<text transform="translate(167.53 845) scale(1.07 1)" text-anchor="middle" font-size="11.6" letter-spacing="-0.42">6</text>
<text transform="translate(202.94 845) scale(1.07 1)" text-anchor="middle" font-size="11.6" letter-spacing="-0.42">8</text>
<text transform="translate(238.36 845) scale(1.07 1)" text-anchor="middle" font-size="11.6" letter-spacing="-0.42">10</text>
<text transform="translate(273.78 845) scale(1.07 1)" text-anchor="middle" font-size="11.6" letter-spacing="-0.42">12</text>
<text transform="translate(309.19 845) scale(1.07 1)" text-anchor="middle" font-size="11.6" letter-spacing="-0.42">14</text>
<text transform="translate(344.61 845) scale(1.07 1)" text-anchor="middle" font-size="11.6" letter-spacing="-0.42">16</text>
<text transform="translate(380.03 845) scale(1.07 1)" text-anchor="middle" font-size="11.6" letter-spacing="-0.42">18</text>
<text transform="translate(415.44 845) scale(1.07 1)" text-anchor="middle" font-size="11.6" letter-spacing="-0.42">20</text>
<text transform="translate(450.86 845) scale(1.07 1)" text-anchor="middle" font-size="11.6" letter-spacing="-0.42">22</text>
<text transform="translate(486.28 845) scale(1.07 1)" text-anchor="middle" font-size="11.6" letter-spacing="-0.42">24</text>
<text transform="translate(54.85 834) scale(1.07 1)" text-anchor="end" font-size="11.6" letter-spacing="-0.42">0</text>
<text transform="translate(54.85 813) scale(1.07 1)" text-anchor="end" font-size="11.6" letter-spacing="-0.42">2</text>
<text transform="translate(54.85 792) scale(1.07 1)" text-anchor="end" font-size="11.6" letter-spacing="-0.42">4</text>
<text transform="translate(54.85 771) scale(1.07 1)" text-anchor="end" font-size="11.6" letter-spacing="-0.42">6</text>
<text transform="translate(54.85 749) scale(1.07 1)" text-anchor="end" font-size="11.6" letter-spacing="-0.42">8</text>
<text transform="translate(54.85 728) scale(1.07 1)" text-anchor="end" font-size="11.6" letter-spacing="-0.42">10</text>
<text transform="translate(54.85 707) scale(1.07 1)" text-anchor="end" font-size="11.6" letter-spacing="-0.42">12</text>
<text transform="translate(35.8 761.6) rotate(-90)" text-anchor="middle" font-size="14.2">UV Index</text>
<text x="274" y="864" text-anchor="middle" font-size="15.7">Local Time (hour)</text>
<path d="M603.6 692.8V830.5M639.04 692.8V830.5M674.49 692.8V830.5M709.93 692.8V830.5M745.38 692.8V830.5M780.83 692.8V830.5M816.27 692.8V830.5M851.72 692.8V830.5M887.16 692.8V830.5M922.61 692.8V830.5M958.05 692.8V830.5" stroke="#808080" stroke-width="0.75" fill="none"/>
<path d="M568.15 816.73H993.5M568.15 802.96H993.5M568.15 789.19H993.5M568.15 775.42H993.5M568.15 761.65H993.5M568.15 747.88H993.5M568.15 734.11H993.5M568.15 720.34H993.5M568.15 706.57H993.5" stroke="#808080" stroke-width="0.75" fill="none"/>
<rect x="568.15" y="692.8" width="425.35" height="137.7" fill="none" stroke="#000000" stroke-width="0.75"/>
<path d="M568.5 830.5 799.8 830.5 804.5 761.6 992 761.6" stroke="#ff0000" stroke-width="0.9" fill="none" stroke-linejoin="miter" stroke-miterlimit="10"/>
<text x="780.53" y="681" text-anchor="middle" font-size="15.65" textLength="304.95" lengthAdjust="spacing">24 hour Accumulated Rainfall or Snow Melt</text>
<text transform="translate(567.93 845) scale(1.07 1)" text-anchor="middle" font-size="11.6" letter-spacing="-0.42">0</text>
<text transform="translate(603.37 845) scale(1.07 1)" text-anchor="middle" font-size="11.6" letter-spacing="-0.42">2</text>
<text transform="translate(638.82 845) scale(1.07 1)" text-anchor="middle" font-size="11.6" letter-spacing="-0.42">4</text>
<text transform="translate(674.26 845) scale(1.07 1)" text-anchor="middle" font-size="11.6" letter-spacing="-0.42">6</text>
<text transform="translate(709.71 845) scale(1.07 1)" text-anchor="middle" font-size="11.6" letter-spacing="-0.42">8</text>
<text transform="translate(745.15 845) scale(1.07 1)" text-anchor="middle" font-size="11.6" letter-spacing="-0.42">10</text>
<text transform="translate(780.6 845) scale(1.07 1)" text-anchor="middle" font-size="11.6" letter-spacing="-0.42">12</text>
<text transform="translate(816.05 845) scale(1.07 1)" text-anchor="middle" font-size="11.6" letter-spacing="-0.42">14</text>
<text transform="translate(851.49 845) scale(1.07 1)" text-anchor="middle" font-size="11.6" letter-spacing="-0.42">16</text>
<text transform="translate(886.94 845) scale(1.07 1)" text-anchor="middle" font-size="11.6" letter-spacing="-0.42">18</text>
<text transform="translate(922.38 845) scale(1.07 1)" text-anchor="middle" font-size="11.6" letter-spacing="-0.42">20</text>
<text transform="translate(957.83 845) scale(1.07 1)" text-anchor="middle" font-size="11.6" letter-spacing="-0.42">22</text>
<text transform="translate(993.28 845) scale(1.07 1)" text-anchor="middle" font-size="11.6" letter-spacing="-0.42">24</text>
<text transform="translate(560.7 834) scale(1.07 1)" text-anchor="end" font-size="11.6" letter-spacing="-0.42">0.0</text>
<text transform="translate(560.7 820) scale(1.07 1)" text-anchor="end" font-size="11.6" letter-spacing="-0.42">0.01</text>
<text transform="translate(560.7 807) scale(1.07 1)" text-anchor="end" font-size="11.6" letter-spacing="-0.42">0.02</text>
<text transform="translate(560.7 793) scale(1.07 1)" text-anchor="end" font-size="11.6" letter-spacing="-0.42">0.03</text>
<text transform="translate(560.7 779) scale(1.07 1)" text-anchor="end" font-size="11.6" letter-spacing="-0.42">0.04</text>
<text transform="translate(560.7 765) scale(1.07 1)" text-anchor="end" font-size="11.6" letter-spacing="-0.42">0.05</text>
<text transform="translate(560.7 752) scale(1.07 1)" text-anchor="end" font-size="11.6" letter-spacing="-0.42">0.06</text>
<text transform="translate(560.7 738) scale(1.07 1)" text-anchor="end" font-size="11.6" letter-spacing="-0.42">0.07</text>
<text transform="translate(560.7 724) scale(1.07 1)" text-anchor="end" font-size="11.6" letter-spacing="-0.42">0.08</text>
<text transform="translate(560.7 710) scale(1.07 1)" text-anchor="end" font-size="11.6" letter-spacing="-0.42">0.09</text>
<text transform="translate(560.7 697) scale(1.07 1)" text-anchor="end" font-size="11.6" letter-spacing="-0.42">0.1</text>
<text transform="translate(999.7 834) scale(1.07 1)" text-anchor="start" font-size="11.6" letter-spacing="-0.42">0.0</text>
<text transform="translate(999.7 820) scale(1.07 1)" text-anchor="start" font-size="11.6" letter-spacing="-0.42">0.01</text>
<text transform="translate(999.7 807) scale(1.07 1)" text-anchor="start" font-size="11.6" letter-spacing="-0.42">0.02</text>
<text transform="translate(999.7 793) scale(1.07 1)" text-anchor="start" font-size="11.6" letter-spacing="-0.42">0.03</text>
<text transform="translate(999.7 779) scale(1.07 1)" text-anchor="start" font-size="11.6" letter-spacing="-0.42">0.04</text>
<text transform="translate(999.7 765) scale(1.07 1)" text-anchor="start" font-size="11.6" letter-spacing="-0.42">0.05</text>
<text transform="translate(999.7 752) scale(1.07 1)" text-anchor="start" font-size="11.6" letter-spacing="-0.42">0.06</text>
<text transform="translate(999.7 738) scale(1.07 1)" text-anchor="start" font-size="11.6" letter-spacing="-0.42">0.07</text>
<text transform="translate(999.7 724) scale(1.07 1)" text-anchor="start" font-size="11.6" letter-spacing="-0.42">0.08</text>
<text transform="translate(999.7 710) scale(1.07 1)" text-anchor="start" font-size="11.6" letter-spacing="-0.42">0.09</text>
<text transform="translate(999.7 697) scale(1.07 1)" text-anchor="start" font-size="11.6" letter-spacing="-0.42">0.1</text>
<text transform="translate(533.3 761.6) rotate(-90)" text-anchor="middle" font-size="14.2">Inches</text>
<text x="780.8" y="864" text-anchor="middle" font-size="15.7">Local Time (hour)</text>
</svg>
</body></html>
